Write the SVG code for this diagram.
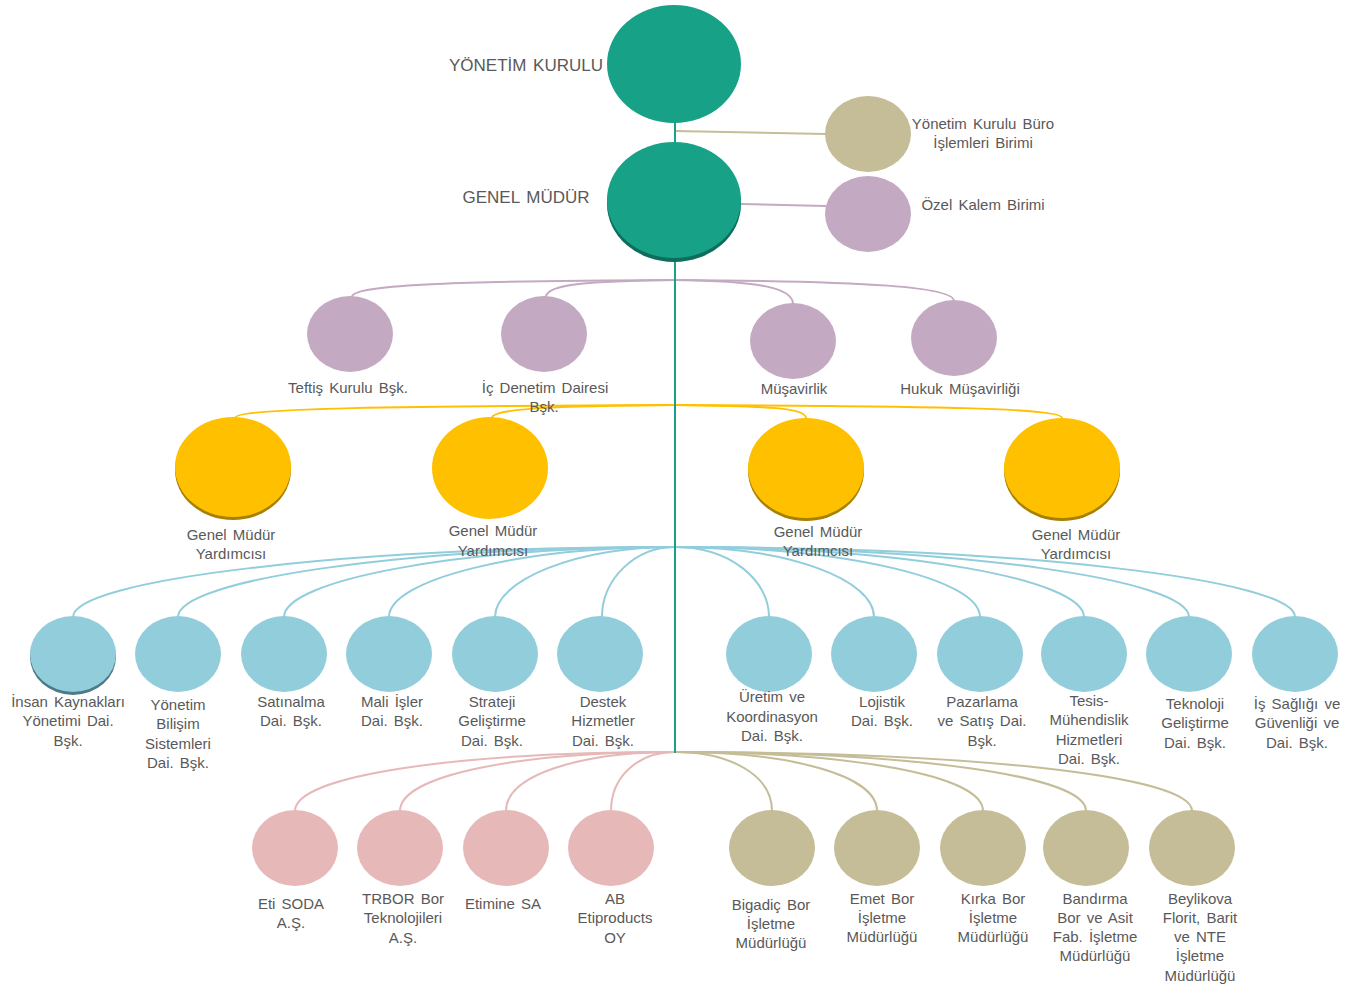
<svg xmlns="http://www.w3.org/2000/svg" width="1357" height="988" viewBox="0 0 1357 988">
<style>
text{font-family:"Liberation Sans",Arial,sans-serif;font-size:15px;fill:#595959;text-anchor:middle;word-spacing:2px}
.big{font-size:17px}
.c{fill:none;stroke-width:2}
.teal{fill:#17A187}.tealS{fill:#0E6E5C}
.tan{fill:#C4BD97}.pur{fill:#C4A9C2}.yel{fill:#FFC000}.yelS{fill:#A88000}
.blu{fill:#92CDDC}.bluS{fill:#4C7A86}.pnk{fill:#E6B8B7}
.lt{stroke:#17A187}.ltan{stroke:#C4BD97}.lpur{stroke:#C4A9C2}.lyel{stroke:#FFC000}.lblu{stroke:#92CDDC}.lpnk{stroke:#E6B8B7}
</style>
<rect width="1357" height="988" fill="#fff"/>
<g id="connectors">
<path class="c ltan" d="M675,131 L826,134"/>
<path class="c lpur" d="M741,204 L826,206"/>
<g class="c lpur">
<path d="M675,280 C470,281 352,284 352,297"/>
<path d="M675,280 C590,281 546,284 546,297"/>
<path d="M675,280 C760,281 793,288 793,304"/>
<path d="M675,280 C870,281 954,287 954,301"/>
</g>
<g class="c lyel">
<path d="M675,405 C400,406 235,408 235,418"/>
<path d="M675,405 C560,406 492,408 492,418"/>
<path d="M675,405 C770,406 806,408 806,418"/>
<path d="M675,405 C930,406 1062,408 1062,418"/>
</g>
<g class="c lblu">
<path d="M675,547 C344,547 73,580 73,617"/>
<path d="M675,547 C402,547 178,580 178,617"/>
<path d="M675,547 C460,547 284,580 284,617"/>
<path d="M675,547 C518,547 389,580 389,617"/>
<path d="M675,547 C576,547 495,580 495,617"/>
<path d="M675,547 C634,547 602,580 602,617"/>
<path d="M675,547 C730,547 769,580 769,617"/>
<path d="M675,547 C790,547 874,580 874,617"/>
<path d="M675,547 C850,547 980,580 980,617"/>
<path d="M675,547 C908,547 1084,580 1084,617"/>
<path d="M675,547 C965,547 1189,580 1189,617"/>
<path d="M675,547 C1023,547 1295,580 1295,617"/>
</g>
<g class="c lpnk">
<path d="M675,752 C460,752 295,775 295,811"/>
<path d="M675,752 C520,752 400,775 400,811"/>
<path d="M675,752 C580,752 506,775 506,811"/>
<path d="M675,752 C640,752 611,775 611,811"/>
</g>
<g class="c ltan">
<path d="M675,752 C730,752 772,775 772,811"/>
<path d="M675,752 C790,752 877,775 877,811"/>
<path d="M675,752 C850,752 983,775 983,811"/>
<path d="M675,752 C908,752 1086,775 1086,811"/>
<path d="M675,752 C965,752 1192,775 1192,811"/>
</g>
<path class="c lt" d="M675,120 L675,753"/>
</g>
<g id="yonetim-kurulu"><ellipse class="teal" cx="674" cy="64" rx="67" ry="59"/><text class="big" x="526" y="71">YÖNETİM KURULU</text></g>
<g id="genel-mudur"><ellipse class="tealS" cx="674" cy="204" rx="67" ry="58"/><ellipse class="teal" cx="674" cy="200" rx="67" ry="58"/><text class="big" x="526" y="203">GENEL MÜDÜR</text></g>
<g id="buro"><ellipse class="tan" cx="868" cy="134" rx="43" ry="38"/><text x="983" y="129">Yönetim Kurulu Büro</text><text x="983" y="148">İşlemleri Birimi</text></g>
<g id="ozel-kalem"><ellipse class="pur" cx="868" cy="214" rx="43" ry="38"/><text x="983" y="210">Özel Kalem Birimi</text></g>
<g id="teftis"><ellipse class="pur" cx="350" cy="334" rx="43" ry="38"/><text x="348" y="393">Teftiş Kurulu Bşk.</text></g>
<g id="ic-denetim"><ellipse class="pur" cx="544" cy="334" rx="43" ry="38"/><text x="545" y="393">İç Denetim Dairesi</text><text x="544" y="412">Bşk.</text></g>
<g id="musavirlik"><ellipse class="pur" cx="793" cy="341" rx="43" ry="38"/><text x="794" y="394">Müşavirlik</text></g>
<g id="hukuk"><ellipse class="pur" cx="954" cy="338" rx="43" ry="38"/><text x="960" y="394">Hukuk Müşavirliği</text></g>
<g id="gmy1"><ellipse class="yelS" cx="233" cy="470" rx="58" ry="50"/><ellipse class="yel" cx="233" cy="467" rx="58" ry="50"/><text x="231" y="540">Genel Müdür</text><text x="231" y="559">Yardımcısı</text></g>
<g id="gmy2"><ellipse class="yel" cx="490" cy="468" rx="58" ry="51"/><text x="493" y="536">Genel Müdür</text><text x="493" y="556">Yardımcısı</text></g>
<g id="gmy3"><ellipse class="yelS" cx="806" cy="471" rx="58" ry="50"/><ellipse class="yel" cx="806" cy="468" rx="58" ry="50"/><text x="818" y="537">Genel Müdür</text><text x="818" y="556">Yardımcısı</text></g>
<g id="gmy4"><ellipse class="yelS" cx="1062" cy="471" rx="58" ry="50"/><ellipse class="yel" cx="1062" cy="468" rx="58" ry="50"/><text x="1076" y="540">Genel Müdür</text><text x="1076" y="559">Yardımcısı</text></g>
<g id="insan-kaynaklari"><ellipse class="bluS" cx="73" cy="657" rx="43" ry="38"/><ellipse class="blu" cx="73" cy="654" rx="43" ry="38"/><text x="68" y="707">İnsan Kaynakları</text><text x="68" y="726">Yönetimi Dai.</text><text x="68" y="746">Bşk.</text></g>
<g id="ybs"><ellipse class="blu" cx="178" cy="654" rx="43" ry="38"/><text x="178" y="710">Yönetim</text><text x="178" y="729">Bilişim</text><text x="178" y="749">Sistemleri</text><text x="178" y="768">Dai. Bşk.</text></g>
<g id="satinalma"><ellipse class="blu" cx="284" cy="654" rx="43" ry="38"/><text x="291" y="707">Satınalma</text><text x="291" y="726">Dai. Bşk.</text></g>
<g id="mali-isler"><ellipse class="blu" cx="389" cy="654" rx="43" ry="38"/><text x="392" y="707">Mali İşler</text><text x="392" y="726">Dai. Bşk.</text></g>
<g id="strateji"><ellipse class="blu" cx="495" cy="654" rx="43" ry="38"/><text x="492" y="707">Strateji</text><text x="492" y="726">Geliştirme</text><text x="492" y="746">Dai. Bşk.</text></g>
<g id="destek"><ellipse class="blu" cx="600" cy="654" rx="43" ry="38"/><text x="603" y="707">Destek</text><text x="603" y="726">Hizmetler</text><text x="603" y="746">Dai. Bşk.</text></g>
<g id="uretim"><ellipse class="blu" cx="769" cy="654" rx="43" ry="38"/><text x="772" y="702">Üretim ve</text><text x="772" y="722">Koordinasyon</text><text x="772" y="741">Dai. Bşk.</text></g>
<g id="lojistik"><ellipse class="blu" cx="874" cy="654" rx="43" ry="38"/><text x="882" y="707">Lojistik</text><text x="882" y="726">Dai. Bşk.</text></g>
<g id="pazarlama"><ellipse class="blu" cx="980" cy="654" rx="43" ry="38"/><text x="982" y="707">Pazarlama</text><text x="982" y="726">ve Satış Dai.</text><text x="982" y="746">Bşk.</text></g>
<g id="tesis"><ellipse class="blu" cx="1084" cy="654" rx="43" ry="38"/><text x="1089" y="706">Tesis-</text><text x="1089" y="725">Mühendislik</text><text x="1089" y="745">Hizmetleri</text><text x="1089" y="764">Dai. Bşk.</text></g>
<g id="teknoloji"><ellipse class="blu" cx="1189" cy="654" rx="43" ry="38"/><text x="1195" y="709">Teknoloji</text><text x="1195" y="728">Geliştirme</text><text x="1195" y="748">Dai. Bşk.</text></g>
<g id="is-sagligi"><ellipse class="blu" cx="1295" cy="654" rx="43" ry="38"/><text x="1297" y="709">İş Sağlığı ve</text><text x="1297" y="728">Güvenliği ve</text><text x="1297" y="748">Dai. Bşk.</text></g>
<g id="eti-soda"><ellipse class="pnk" cx="295" cy="848" rx="43" ry="38"/><text x="291" y="909">Eti SODA</text><text x="291" y="928">A.Ş.</text></g>
<g id="trbor"><ellipse class="pnk" cx="400" cy="848" rx="43" ry="38"/><text x="403" y="904">TRBOR  Bor</text><text x="403" y="923">Teknolojileri</text><text x="403" y="943">A.Ş.</text></g>
<g id="etimine"><ellipse class="pnk" cx="506" cy="848" rx="43" ry="38"/><text x="503" y="909">Etimine SA</text></g>
<g id="ab-etiproducts"><ellipse class="pnk" cx="611" cy="848" rx="43" ry="38"/><text x="615" y="904">AB</text><text x="615" y="923">Etiproducts</text><text x="615" y="943">OY</text></g>
<g id="bigadic"><ellipse class="tan" cx="772" cy="848" rx="43" ry="38"/><text x="771" y="910">Bigadiç Bor</text><text x="771" y="929">İşletme</text><text x="771" y="948">Müdürlüğü</text></g>
<g id="emet"><ellipse class="tan" cx="877" cy="848" rx="43" ry="38"/><text x="882" y="904">Emet Bor</text><text x="882" y="923">İşletme</text><text x="882" y="942">Müdürlüğü</text></g>
<g id="kirka"><ellipse class="tan" cx="983" cy="848" rx="43" ry="38"/><text x="993" y="904">Kırka Bor</text><text x="993" y="923">İşletme</text><text x="993" y="942">Müdürlüğü</text></g>
<g id="bandirma"><ellipse class="tan" cx="1086" cy="848" rx="43" ry="38"/><text x="1095" y="904">Bandırma</text><text x="1095" y="923">Bor ve Asit</text><text x="1095" y="942">Fab. İşletme</text><text x="1095" y="961">Müdürlüğü</text></g>
<g id="beylikova"><ellipse class="tan" cx="1192" cy="848" rx="43" ry="38"/><text x="1200" y="904">Beylikova</text><text x="1200" y="923">Florit, Barit</text><text x="1200" y="942">ve NTE</text><text x="1200" y="961">İşletme</text><text x="1200" y="981">Müdürlüğü</text></g>
</svg>
